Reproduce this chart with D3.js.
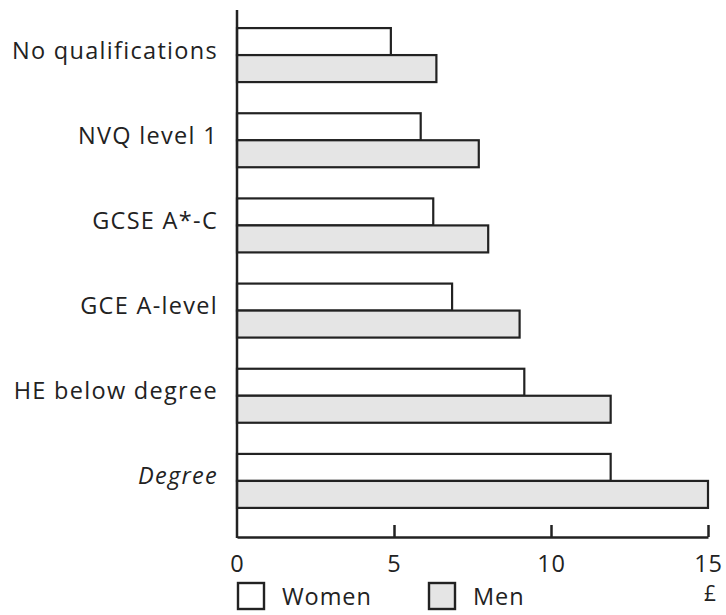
<!DOCTYPE html>
<html>
<head>
<meta charset="utf-8">
<script src="https://cdn.jsdelivr.net/npm/d3@7"></script>
<style>
  html, body { margin: 0; padding: 0; background: #fff; }
  svg { display: block; }
  text { font-family: "Open Sans", "DejaVu Sans", sans-serif; fill: #222; }
</style>
</head>
<body>
<svg id="chart" width="726" height="615"></svg>
<script>
// Hourly earnings (£) by highest qualification
const categories = ["No qualifications", "NVQ level 1", "GCSE A*-C", "GCE A-level", "HE below degree", "Degree"];
const women = [4.9, 5.85, 6.25, 6.85, 9.15, 11.9];
const men   = [6.35, 7.7, 8.0, 9.0, 11.9, 15.0];
const xTicks = [0, 5, 10, 15];
const seriesNames = ["Women", "Men"];
const seriesFill = ["#ffffff", "#e5e5e5"];

const svg = d3.select("#chart");
const ink = "#222";

const x = d3.scaleLinear().domain([0, 15]).range([237, 708]);
const y = d3.scaleBand().domain(categories).range([12.5, 523.5]).paddingInner(0.366).paddingOuter(0.183);
const ySub = d3.scaleBand().domain(seriesNames).range([0, y.bandwidth()]);

const rows = categories.map((c, i) => ({ cat: c, values: [women[i], men[i]] }));

const groups = svg.append("g").selectAll("g")
  .data(rows).join("g")
  .attr("transform", d => `translate(0,${y(d.cat)})`);

groups.selectAll("rect")
  .data(d => d.values.map((v, j) => ({ v, s: seriesNames[j], j })))
  .join("rect")
  .attr("x", x(0))
  .attr("y", d => ySub(d.s))
  .attr("width", d => x(d.v) - x(0))
  .attr("height", ySub.bandwidth())
  .attr("fill", d => seriesFill[d.j])
  .attr("stroke", ink)
  .attr("stroke-width", 2.2);

// Category labels
svg.append("g").selectAll("text")
  .data(categories).join("text")
  .attr("x", 218)
  .attr("y", d => y(d) + y.bandwidth() / 2 + 3.5)
  .attr("text-anchor", "end")
  .attr("font-size", 23.5)
  .attr("letter-spacing", 1.3)
  .attr("font-style", d => d === "Degree" ? "italic" : null)
  .text(d => d);

// Axes
const axisY = 537;
svg.append("line").attr("x1", x(0)).attr("x2", x(0)).attr("y1", 10).attr("y2", axisY + 1)
  .attr("stroke", ink).attr("stroke-width", 2.5);

const xAxis = d3.axisBottom(x).tickValues(xTicks).tickSize(-12).tickSizeOuter(0).tickFormat(d3.format("d"));
const gx = svg.append("g").attr("transform", `translate(0,${axisY})`).call(xAxis);
gx.select(".domain").attr("stroke", ink).attr("stroke-width", 2.5);
gx.selectAll(".tick line").attr("stroke", ink).attr("stroke-width", 2.5)
  .attr("display", d => d === 0 ? "none" : null);
gx.selectAll(".tick text").attr("font-size", 23.5).attr("font-family", "'Open Sans', sans-serif")
  .attr("fill", ink).attr("dy", null).attr("y", 35).attr("letter-spacing", 0.9);

svg.append("text").attr("x", x(15) + 2).attr("y", 601).attr("text-anchor", "middle")
  .attr("font-size", 21).text("£");

// Legend
const legendX = [238, 429];
const legend = svg.append("g").selectAll("g")
  .data(seriesNames).join("g")
  .attr("transform", (d, i) => `translate(${legendX[i]},583)`);
legend.append("rect").attr("width", 26).attr("height", 26)
  .attr("fill", (d, i) => seriesFill[i]).attr("stroke", ink).attr("stroke-width", 2.4);
legend.append("text").attr("x", 44).attr("y", 22)
  .attr("font-size", 23.5).attr("letter-spacing", 0.9).text(d => d);
</script>
</body>
</html>
